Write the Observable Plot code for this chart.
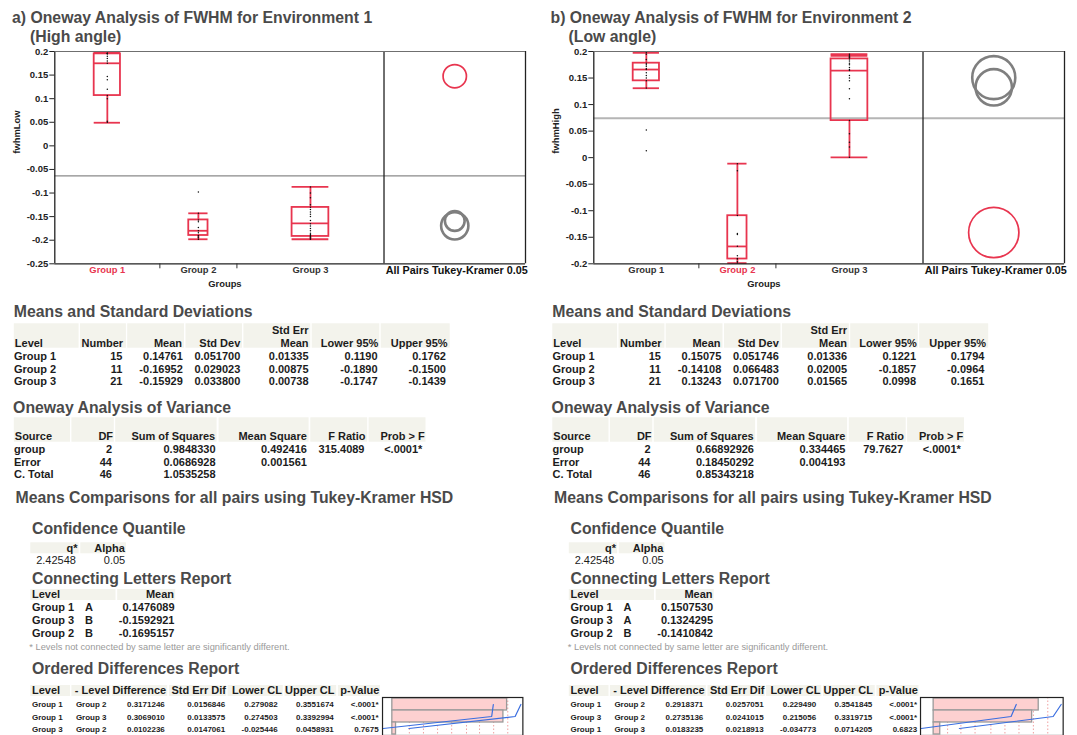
<!DOCTYPE html>
<html>
<head>
<meta charset="utf-8">
<script src="https://cdn.jsdelivr.net/npm/d3@7"></script>
<script src="https://cdn.jsdelivr.net/npm/@observablehq/plot@0.6"></script>
<style>
  body { margin: 0; background: #fff; }
  #page { position: relative; width: 1077px; height: 735px; overflow: hidden; background: #fff; }
</style>
</head>
<body>
<div id="page"></div>
<script>
// ---------- data ----------
const groups = ["Group 1", "Group 2", "Group 3"];
const groupCounts = [15, 11, 21];

// Environment 1 (high angle): fwhmLow observations per group
const env1Group1 = [0.197, 0.196, 0.195, 0.195, 0.19, 0.185, 0.18, 0.175, 0.14, 0.147, 0.12, 0.107, 0.1, 0.052, 0.05];
const env1Group2 = [-0.098, -0.143, -0.157, -0.161, -0.173, -0.18, -0.184, -0.19, -0.191, -0.195, -0.198];
const env1Group3 = [-0.087, -0.1, -0.11, -0.125, -0.13, -0.135, -0.14, -0.145, -0.15, -0.158, -0.165, -0.17, -0.175, -0.18, -0.185, -0.188, -0.19, -0.192, -0.195, -0.197, -0.198];
// box summaries per group
const env1WhiskerLo = [0.049, -0.198, -0.198];
const env1Q1 = [0.1066, -0.19, -0.192];
const env1Median = [0.175, -0.18, -0.1645];
const env1Q3 = [0.195, -0.157, -0.1305];
const env1WhiskerHi = [0.197, -0.143, -0.087];
const env1ExtraCap = [null, null, null];
const env1YTicks = [0.2, 0.15, 0.1, 0.05, 0, -0.05, -0.1, -0.15, -0.2, -0.25];

// Environment 2 (low angle): fwhmHigh observations per group
const env2Group1 = [0.0132, 0.0522, 0.131, 0.145, 0.15, 0.155, 0.16, 0.166, 0.168, 0.172, 0.175, 0.178, 0.185, 0.195, 0.1975];
const env2Group2 = [-0.0113, -0.0245, -0.109, -0.143, -0.145, -0.167, -0.185, -0.19, -0.191, -0.196, -0.1987];
const env2Group3 = [0.0006, 0.02, 0.029, 0.045, 0.0698, 0.111, 0.13, 0.145, 0.15, 0.155, 0.164, 0.166, 0.17, 0.175, 0.178, 0.182, 0.186, 0.188, 0.19, 0.192, 0.195];
const env2WhiskerLo = [0.1308, -0.1987, 0.0006];
const env2Q1 = [0.1447, -0.191, 0.0698];
const env2Median = [0.166, -0.1673, 0.164];
const env2Q3 = [0.178, -0.1094, 0.186];
const env2WhiskerHi = [0.1975, -0.0113, 0.195];
const env2ExtraCap = [null, null, 0.192];
const env2YTicks = [0.2, 0.15, 0.1, 0.05, 0, -0.05, -0.1, -0.15, -0.2];

// Means and Standard Deviations
const env1Means = [
  ["Group 1", "15", "0.14761", "0.051700", "0.01335", "0.1190", "0.1762"],
  ["Group 2", "11", "-0.16952", "0.029023", "0.00875", "-0.1890", "-0.1500"],
  ["Group 3", "21", "-0.15929", "0.033800", "0.00738", "-0.1747", "-0.1439"]
];
const env2Means = [
  ["Group 1", "15", "0.15075", "0.051746", "0.01336", "0.1221", "0.1794"],
  ["Group 2", "11", "-0.14108", "0.066483", "0.02005", "-0.1857", "-0.0964"],
  ["Group 3", "21", "0.13243", "0.071700", "0.01565", "0.0998", "0.1651"]
];
// Oneway Analysis of Variance
const env1Anova = [
  ["group", "2", "0.9848330", "0.492416", "315.4089", "<.0001*"],
  ["Error", "44", "0.0686928", "0.001561", "", ""],
  ["C. Total", "46", "1.0535258", "", "", ""]
];
const env2Anova = [
  ["group", "2", "0.66892926", "0.334465", "79.7627", "<.0001*"],
  ["Error", "44", "0.18450292", "0.004193", "", ""],
  ["C. Total", "46", "0.85343218", "", "", ""]
];
// Confidence quantile
const qStar = "2.42548";
const alpha = "0.05";
// Connecting Letters Report
const env1Letters = [["Group 1", "A", "0.1476089"], ["Group 3", "B", "-0.1592921"], ["Group 2", "B", "-0.1695157"]];
const env2Letters = [["Group 1", "A", "0.1507530"], ["Group 3", "A", "0.1324295"], ["Group 2", "B", "-0.1410842"]];
// Ordered Differences Report
const env1Ordered = [
  ["Group 1", "Group 2", "0.3171246", "0.0156846", "0.279082", "0.3551674", "<.0001*"],
  ["Group 1", "Group 3", "0.3069010", "0.0133575", "0.274503", "0.3392994", "<.0001*"],
  ["Group 3", "Group 2", "0.0102236", "0.0147061", "-0.025446", "0.0458931", "0.7675"]
];
const env2Ordered = [
  ["Group 1", "Group 2", "0.2918371", "0.0257051", "0.229490", "0.3541845", "<.0001*"],
  ["Group 3", "Group 2", "0.2735136", "0.0241015", "0.215056", "0.3319715", "<.0001*"],
  ["Group 1", "Group 3", "0.0183235", "0.0218913", "-0.034773", "0.0714205", "0.6823"]
];
// dotted reference lines of the difference charts
const env1OrderedGrid = [0.047, 0.086, 0.125, 0.164, 0.205, 0.241, 0.28, 0.319];
const env2OrderedGrid = [0.0388, 0.0757, 0.115, 0.159, 0.198, 0.237, 0.277, 0.317];

// ---------- styling ----------
const FONT = "'Liberation Sans', Arial, Helvetica, sans-serif";
const RED = "#e8354f";
const GRAY_CIRCLE = "#7f7f7f";
const HEAD = "#4a4a4a";
const INK = "#1c1c1c";
const CELL_BG = "#f3f3ec";
const TUKEY_SPAN = 20.2;        // width of the comparison-circle panel, in x units
const PLOT_TOP = 51, PLOT_BOTTOM = 263.3;

const page = document.getElementById("page");
function place(node, left, top) {
  node.style.position = "absolute";
  node.style.left = left + "px";
  node.style.top = top + "px";
  page.appendChild(node);
}

// ---------- oneway box plot with comparison circles ----------
function onewayPlot(cfg) {
  const starts = [0, ...d3.cumsum(groupCounts)];
  const total = starts[starts.length - 1];
  const xMax = total + TUKEY_SPAN;
  const tukeyX = total + TUKEY_SPAN / 2;
  const boxes = groups.map((g, i) => {
    const x = starts[i] + groupCounts[i] / 2, hw = groupCounts[i] * 0.125;
    return {g, i, x, x1: x - hw, x2: x + hw, lo: cfg.lo[i], q1: cfg.q1[i], med: cfg.med[i], q3: cfg.q3[i], hi: cfg.hi[i], extra: cfg.extra[i]};
  });
  const pts = cfg.points.flatMap((arr, i) => arr.map(v => ({x: boxes[i].x, v})));
  const means = cfg.means.map(r => Number(r[2]));
  const grand = d3.sum(means, (m, i) => m * groupCounts[i]) / total;
  const mse = Number(cfg.anova[1][3]);
  const q = Number(qStar);
  const pxPerUnit = (PLOT_BOTTOM - PLOT_TOP) / (cfg.yDomain[1] - cfg.yDomain[0]);
  const circles = means.map((m, i) => ({x: tukeyX, y: m, r: q * Math.sqrt(mse / groupCounts[i]) * pxPerUnit, sel: i === cfg.highlight}));
  const circleMarks = [...circles.filter(c => !c.sel), ...circles.filter(c => c.sel)].map(c =>
    Plot.dot([c], {x: "x", y: "y", r: c.r, fill: "none", stroke: c.sel ? RED : GRAY_CIRCLE, strokeWidth: c.sel ? 1.7 : 2.6})
  );
  const boxStyle = {stroke: RED, strokeWidth: 1.8};
  return Plot.plot({
    width: 530, height: 292,
    marginLeft: 54.3, marginRight: 5, marginTop: PLOT_TOP, marginBottom: 292 - PLOT_BOTTOM,
    style: {background: "transparent", fontFamily: FONT, fontSize: "9.5px", fontWeight: "bold", overflow: "visible"},
    x: {domain: [0, xMax]},
    y: {domain: cfg.yDomain},
    marks: [
      Plot.ruleY([grand], {stroke: cfg.meanStroke, strokeWidth: cfg.meanWidth}),
      Plot.ruleX(boxes, {x: "x", y1: "lo", y2: "q1", ...boxStyle}),
      Plot.ruleX(boxes, {x: "x", y1: "q3", y2: "hi", ...boxStyle}),
      Plot.rect(boxes, {x1: "x1", x2: "x2", y1: "q1", y2: "q3", fill: "none", ...boxStyle}),
      Plot.ruleY(boxes, {x1: "x1", x2: "x2", y: "med", ...boxStyle}),
      Plot.ruleY(boxes, {x1: "x1", x2: "x2", y: "lo", ...boxStyle}),
      Plot.ruleY(boxes, {x1: "x1", x2: "x2", y: "hi", ...boxStyle}),
      Plot.ruleY(boxes.filter(b => b.extra != null), {x1: "x1", x2: "x2", y: "extra", ...boxStyle}),
      Plot.dot(pts, {x: "x", y: "v", r: 0.75, fill: "#111"}),
      ...circleMarks,
      Plot.ruleX([0, total, xMax], {stroke: "#222", strokeWidth: 1.3}),
      Plot.ruleY([cfg.yDomain[0]], {stroke: "#222", strokeWidth: 1.3}),
      Plot.ruleY([cfg.yDomain[1]], {stroke: "#6f6f6f", strokeWidth: 1.2}),
      Plot.axisY(cfg.yTicks, {tickSize: 5, tickPadding: 1.5, tickFormat: d => String(d), label: null, fill: "#222", stroke: "#222", fontSize: 9.5, fontWeight: "bold"}),
      Plot.axisX(starts.slice(1, -1), {tickSize: 5, tickFormat: () => "", label: null, stroke: "#333"}),
      Plot.text(boxes, {x: "x", text: "g", frameAnchor: "bottom", lineAnchor: "top", dy: 2.6, fill: d => d.i === cfg.highlight ? RED : "#333", fontSize: 9.4, fontWeight: "bold"}),
      Plot.text(["Groups"], {x: total / 2, frameAnchor: "bottom", lineAnchor: "top", dy: 17, dx: 5.5, fill: "#222", fontSize: 9.4, fontWeight: "bold"}),
      Plot.text(["All Pairs Tukey-Kramer 0.05"], {x: tukeyX, frameAnchor: "bottom", lineAnchor: "top", dy: 3, dx: 2, fill: "#111", fontSize: 10.8, fontWeight: "bold"}),
      Plot.text([cfg.yLabel], {frameAnchor: "left", rotate: -90, dx: -37.6, dy: -4, fill: "#222", fontSize: 9.4, fontWeight: "bold"})
    ]
  });
}

// ---------- ordered differences chart ----------
function orderedChart(rows, grid, width) {
  const data = rows.map(r => ({key: r[0] + " - " + r[1], diff: Number(r[2]), lower: Number(r[4]), upper: Number(r[5])}));
  return Plot.plot({
    width, height: 40, margin: 1,
    style: {background: "transparent", overflow: "visible"},
    x: {domain: [d3.min(data, d => d.lower), d3.max(data, d => d.upper)], insetLeft: 0.6, insetRight: 2, axis: null},
    y: {domain: data.map(d => d.key), type: "band", padding: 0, axis: null},
    marks: [
      Plot.ruleX(grid, {stroke: "#f0a0a0", strokeDasharray: "1.5,2", strokeWidth: 1}),
      Plot.barX(data, {x1: 0, x2: "diff", y: "key", fill: "#fdd0d0", stroke: "#9a9a9a", strokeWidth: 1.3}),
      Plot.line(data, {x: "lower", y: "key", stroke: "#3a6ee0", strokeWidth: 1.2}),
      Plot.line(data, {x: "upper", y: "key", stroke: "#3a6ee0", strokeWidth: 1.2}),
      Plot.frame({stroke: "#222", strokeWidth: 1.2})
    ]
  });
}

// ---------- report text and tables ----------
const overlay = d3.create("svg").attr("width", 1077).attr("height", 735)
  .style("pointer-events", "none").attr("font-family", FONT);

function report(dx, r) {
  const g = overlay.append("g").attr("transform", `translate(${dx},0)`);
  const text = (x, y, s, o = {}) => g.append("text")
    .attr("x", x).attr("y", y)
    .attr("font-size", o.size ?? 11)
    .attr("font-weight", o.weight ?? "bold")
    .attr("text-anchor", o.anchor ?? "start")
    .attr("fill", o.fill ?? INK).text(s);
  const cells = (edges, y, h) => edges.forEach(([a, b]) =>
    g.append("rect").attr("x", a).attr("y", y).attr("width", b - a).attr("height", h).attr("fill", CELL_BG));
  const heading = (x, y, s) => text(x, y, s, {size: 15.8, fill: HEAD});

  heading(12, 22.7, r.title[0]);
  heading(30, 41.5, r.title[1]);

  // Means and Standard Deviations
  heading(13.8, 316.7, "Means and Standard Deviations");
  cells([[13.8, 78.6], [80, 125.9], [127.2, 184], [185.5, 242], [243.4, 310.3], [311.7, 379.3], [380.7, 449.7]], 323.3, 24.4);
  const mHeadRight = [0, 123.1, 182, 240.3, 308.6, 378.3, 447.6];
  const mValRight = [0, 122.4, 182.8, 240.3, 308.6, 377.6, 445.9];
  text(14.8, 346.6, "Level");
  ["Number", "Mean", "Std Dev", "Mean", "Lower 95%", "Upper 95%"].forEach((h, j) => text(mHeadRight[j + 1], 346.6, h, {anchor: "end"}));
  text(mHeadRight[4], 334, "Std Err", {anchor: "end"});
  r.means.forEach((row, i) => row.forEach((v, j) =>
    text(j ? mValRight[j] : 14, 359.9 + i * 12.65, v, {anchor: j ? "end" : "start"})));

  // Oneway Analysis of Variance
  heading(13.1, 413.3, "Oneway Analysis of Variance");
  cells([[13.8, 70], [71.4, 113.8], [115.2, 216.6], [218.6, 308.6], [310.3, 367.2], [368.6, 425.5]], 417.3, 24.4);
  const aHeadRight = [0, 113.1, 215.2, 306.9, 365.5, 424.8];
  const aValRight = [0, 112, 215.5, 306.9, 364.5, 422.4];
  text(14.8, 440, "Source");
  ["DF", "Sum of Squares", "Mean Square", "F Ratio", "Prob > F"].forEach((h, j) => text(aHeadRight[j + 1], 440, h, {anchor: "end"}));
  r.anova.forEach((row, i) => row.forEach((v, j) =>
    text(j ? aValRight[j] : 14, 452.9 + i * 12.65, v, {anchor: j ? "end" : "start"})));

  // Tukey-Kramer comparisons
  heading(15.5, 503.3, "Means Comparisons for all pairs using Tukey-Kramer HSD");
  heading(32, 534, "Confidence Quantile");
  cells([[30.3, 78.6], [80.3, 125.9]], 542.3, 11);
  text(77.6, 551.6, "q*", {anchor: "end"});
  text(124.8, 551.6, "Alpha", {anchor: "end"});
  text(75.9, 563.9, qStar, {anchor: "end", weight: "normal"});
  text(125.2, 563.9, alpha, {anchor: "end", weight: "normal"});

  heading(32, 584, "Connecting Letters Report");
  cells([[30.3, 115.5], [117.2, 175.2]], 589, 11);
  text(32, 598.2, "Level");
  text(174, 598.2, "Mean", {anchor: "end"});
  r.letters.forEach((row, i) => {
    const y = 611.2 + i * 12.7;
    text(32, y, row[0]); text(85, y, row[1]); text(174.5, y, row[2], {anchor: "end"});
  });
  text(29.3, 650.3, "* Levels not connected by same letter are significantly different.", {size: 9.3, weight: "normal", fill: "#9a9a9a"});

  heading(32, 674, "Ordered Differences Report");
  cells([[30.3, 70], [71.4, 110.3], [111.7, 167.2], [169, 226.2], [227.6, 282.8], [284.5, 336.2], [337.9, 380]], 685, 11);
  const oHeadRight = [0, 109.7, 166.2, 225.9, 282, 334.5, 379.3];
  const oValRight = [0, 0, 164.8, 225.2, 277.6, 333.8, 378.6];
  text(32, 694.2, "Level");
  ["- Level", "Difference", "Std Err Dif", "Lower CL", "Upper CL", "p-Value"].forEach((h, j) => text(oHeadRight[j + 1], 694.2, h, {anchor: "end"}));
  r.ordered.forEach((row, i) => row.forEach((v, j) => {
    const y = 707.2 + i * 12.5;
    if (j === 0) text(32, y, v, {size: 8});
    else if (j === 1) text(75.9, y, v, {size: 8});
    else text(oValRight[j], y, v, {size: 8, anchor: "end"});
  }));
}

// ---------- assemble ----------
place(onewayPlot({
  points: [env1Group1, env1Group2, env1Group3],
  lo: env1WhiskerLo, q1: env1Q1, med: env1Median, q3: env1Q3, hi: env1WhiskerHi, extra: env1ExtraCap,
  means: env1Means, anova: env1Anova, yDomain: [-0.25, 0.2], yTicks: env1YTicks,
  yLabel: "fwhmLow", highlight: 0, meanStroke: "#8a8a8a", meanWidth: 1.2
}), 0, 0);

place(onewayPlot({
  points: [env2Group1, env2Group2, env2Group3],
  lo: env2WhiskerLo, q1: env2Q1, med: env2Median, q3: env2Q3, hi: env2WhiskerHi, extra: env2ExtraCap,
  means: env2Means, anova: env2Anova, yDomain: [-0.2, 0.2], yTicks: env2YTicks,
  yLabel: "fwhmHigh", highlight: 1, meanStroke: "#b5b5b5", meanWidth: 1.8
}), 539, 0);

place(orderedChart(env1Ordered, env1OrderedGrid, 142.4), 381.3, 696.3);
place(orderedChart(env2Ordered, env2OrderedGrid, 144.7), 919, 695.7);

report(0, {title: ["a) Oneway Analysis of FWHM for Environment 1", "(High angle)"], means: env1Means, anova: env1Anova, letters: env1Letters, ordered: env1Ordered});
report(538.5, {title: ["b) Oneway Analysis of FWHM for Environment 2", "(Low angle)"], means: env2Means, anova: env2Anova, letters: env2Letters, ordered: env2Ordered});
place(overlay.node(), 0, 0);
</script>
</body>
</html>
